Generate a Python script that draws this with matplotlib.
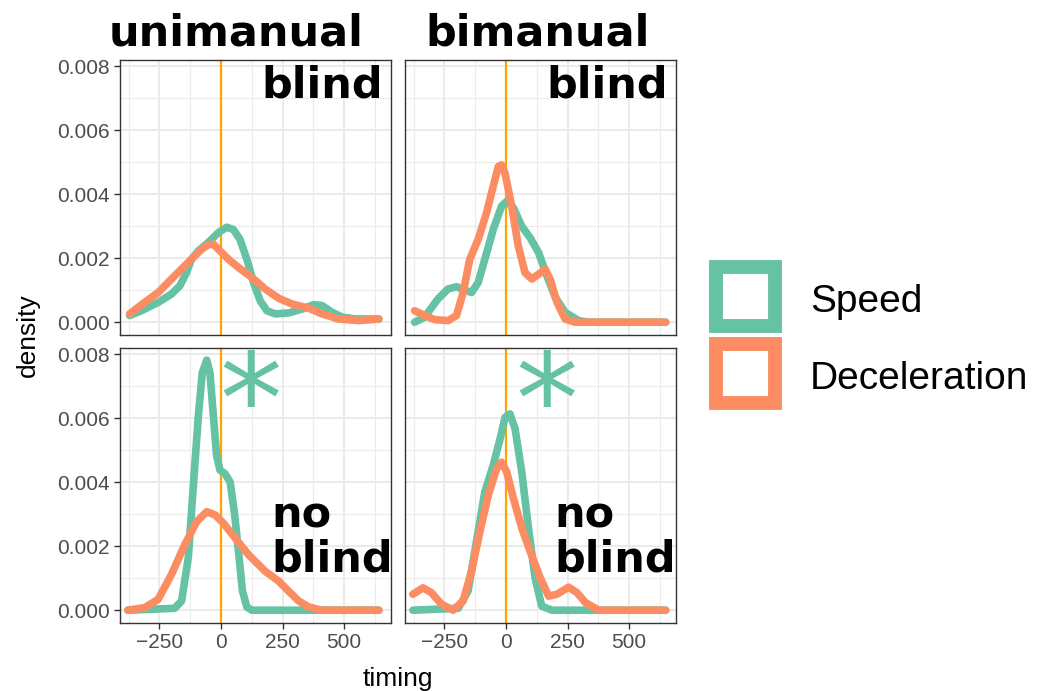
import matplotlib
matplotlib.use("Agg")
import matplotlib.pyplot as plt
from matplotlib.patches import Rectangle

# colours (Set2)
SPEED_COL = "#66C2A5"
DECEL_COL = "#FC8D62"
VLINE_COL = "#FFA500"

# ---- data (timing, density) ----
# unimanual / blind
uni_blind_speed_x = [-371, -323, -255, -201, -167, -140, -120, -92, -52, -11, 23, 50, 77, 105, 132, 159,
                     186, 220, 274, 329, 376, 410, 451, 492, 546, 641]
uni_blind_speed_y = [0.00021, 0.00036, 0.00062, 0.00088, 0.00114, 0.00155, 0.00197, 0.00223, 0.00249,
                     0.0028, 0.00297, 0.0029, 0.00259, 0.00197, 0.00124, 0.00067, 0.00036, 0.00026,
                     0.00029, 0.00041, 0.00055, 0.00052, 0.00031, 0.00016, 0.0001, 0.0001]
uni_blind_decel_x = [-371, -310, -255, -188, -120, -79, -52, -31, -4, 30, 71, 125, 179, 234, 288, 356,
                     410, 478, 560, 641]
uni_blind_decel_y = [0.00026, 0.00062, 0.00093, 0.00145, 0.00197, 0.00228, 0.00242, 0.00244, 0.00223,
                     0.00197, 0.00171, 0.0014, 0.00104, 0.00075, 0.00057, 0.00044, 0.00026, 0.0001,
                     0.00005, 0.0001]

# bimanual / blind
bi_blind_speed_x = [-371, -330, -276, -235, -201, -167, -140, -113, -86, -52, -18, 3, 30, 64, 98, 132,
                    166, 200, 240, 295, 336, 648]
bi_blind_speed_y = [0.0, 0.00016, 0.00073, 0.00104, 0.00111, 0.001, 0.00093, 0.00124, 0.00197, 0.0029,
                    0.00363, 0.00378, 0.00358, 0.003, 0.00264, 0.00218, 0.00145, 0.00078, 0.00031,
                    0.00005, 0.0, 0.0]
bi_blind_decel_x = [-371, -330, -289, -235, -201, -174, -147, -113, -79, -52, -31, -18, -4, 23, 50, 77,
                    105, 132, 159, 179, 207, 240, 281, 648]
bi_blind_decel_y = [0.00036, 0.00021, 0.00008, 0.00005, 0.00021, 0.00093, 0.00197, 0.00259, 0.00342,
                    0.00425, 0.00487, 0.00492, 0.00466, 0.00363, 0.00238, 0.00155, 0.00135, 0.0015,
                    0.00166, 0.00135, 0.00062, 0.0001, 0.0, 0.0]

# unimanual / no blind
uni_noblind_speed_x = [-378, -188, -160, -133, -113, -92, -76, -58, -45, -31, -18, -4, 16, 37, 54, 71,
                       87, 105, 125, 641]
uni_noblind_speed_y = [0.0, 0.00006, 0.00029, 0.00163, 0.00381, 0.00608, 0.00743, 0.00782, 0.00743,
                       0.00608, 0.00484, 0.00438, 0.00427, 0.00401, 0.00308, 0.00184, 0.0006, 0.0001,
                       0.0, 0.0]
uni_noblind_decel_x = [-378, -310, -255, -201, -147, -99, -58, -24, 10, 57, 111, 179, 234, 274, 315, 356,
                       410, 641]
uni_noblind_decel_y = [0.0, 0.00008, 0.00034, 0.00112, 0.00205, 0.00277, 0.00308, 0.00298, 0.00272,
                       0.00226, 0.00174, 0.00122, 0.00091, 0.0006, 0.00029, 0.0001, 0.0, 0.0]

# bimanual / no blind
bi_noblind_speed_x = [-378, -194, -154, -120, -86, -52, -24, -4, 16, 37, 64, 91, 118, 145, 186, 648]
bi_noblind_speed_y = [0.0, 0.00006, 0.0006, 0.00215, 0.0037, 0.00453, 0.00536, 0.00603, 0.00614,
                      0.00567, 0.00432, 0.00257, 0.00101, 0.00013, 0.0, 0.0]
bi_noblind_decel_x = [-378, -337, -303, -262, -215, -174, -140, -106, -72, -38, -18, 3, 30, 64, 98, 139,
                      173, 207, 254, 288, 322, 376, 648]
bi_noblind_decel_y = [0.0005, 0.0007, 0.00055, 0.00019, 0.0, 0.00029, 0.00122, 0.00246, 0.0036, 0.00443,
                      0.00463, 0.00432, 0.0035, 0.00257, 0.00184, 0.00101, 0.00044, 0.0005, 0.00072,
                      0.00055, 0.00024, 0.0, 0.0]

col_titles = ["unimanual", "bimanual"]
legend_labels = ["Speed", "Deceleration"]
x_ticks = [-250, 0, 250, 500]
y_ticks = [0.000, 0.002, 0.004, 0.006, 0.008]

panels = [
    [(uni_blind_speed_x, uni_blind_speed_y, uni_blind_decel_x, uni_blind_decel_y),
     (bi_blind_speed_x, bi_blind_speed_y, bi_blind_decel_x, bi_blind_decel_y)],
    [(uni_noblind_speed_x, uni_noblind_speed_y, uni_noblind_decel_x, uni_noblind_decel_y),
     (bi_noblind_speed_x, bi_noblind_speed_y, bi_noblind_decel_x, bi_noblind_decel_y)],
]
asterisk_pos = [(120, 0.0063), (164, 0.0063)]

W, H = 1045, 691
fig = plt.figure(figsize=(W / 100, H / 100), dpi=100)
TICK_FONT = "Liberation Sans"
BOLD_FONT = "DejaVu Sans"

lefts = [120, 405]
tops = [60, 348]
pw, ph = 271, 275

for r in range(2):
    for c in range(2):
        ax = fig.add_axes([lefts[c] / W, 1 - (tops[r] + ph) / H, pw / W, ph / H])
        sx, sy, dx, dy = panels[r][c]
        ax.set_xlim(-410, 690)
        ax.set_ylim(-0.0004, 0.0082)
        ax.set_xticks(x_ticks)
        ax.set_yticks(y_ticks)
        ax.set_xticks([-375, -125, 125, 375, 625], minor=True)
        ax.set_yticks([0.001, 0.003, 0.005, 0.007], minor=True)
        ax.grid(which="major", color="#EBEBEB", lw=1.5)
        ax.grid(which="minor", color="#EBEBEB", lw=0.8)
        ax.set_axisbelow(True)
        for s in ax.spines.values():
            s.set_color("#333333")
            s.set_linewidth(1.0)
        ax.tick_params(which="minor", length=0)
        ax.tick_params(which="major", length=4, width=1.0, color="#333333",
                       labelsize=15, labelcolor="#4D4D4D")
        for lab in ax.get_xticklabels() + ax.get_yticklabels():
            lab.set_fontfamily(TICK_FONT)
        if c == 0:
            ax.set_yticklabels(["0.000", "0.002", "0.004", "0.006", "0.008"])
        else:
            ax.tick_params(axis="y", which="major", length=0, labelleft=False)
        if r == 0:
            ax.tick_params(axis="x", which="major", length=0, labelbottom=False)
        else:
            ax.set_xticklabels(["\u2212250", "0", "250", "500"])

        ax.axvline(0, color=VLINE_COL, lw=1.6, zorder=2)
        ax.plot(sx, sy, color=SPEED_COL, lw=5.5, solid_capstyle="round",
                solid_joinstyle="round", zorder=3)
        ax.plot(dx, dy, color=DECEL_COL, lw=5.5, solid_capstyle="round",
                solid_joinstyle="round", zorder=4)

        if r == 0:
            ax.text(0.97, 0.985, "blind", transform=ax.transAxes, ha="right", va="top",
                    fontsize=31, fontweight="bold", family=BOLD_FONT, zorder=5)
        else:
            ax.text(0.56 if c == 0 else 0.553, 0.189, "no\nblind", transform=ax.transAxes,
                    ha="left", va="baseline", fontsize=31, fontweight="bold",
                    family=BOLD_FONT, linespacing=1.05, zorder=5)
            axx, axy = asterisk_pos[c]
            ax.text(axx, axy, "*", ha="center", va="center", fontsize=90,
                    color=SPEED_COL, family=BOLD_FONT, zorder=5)

# column titles
fig.text(236 / W, 1 - 45 / H, col_titles[0], ha="center", va="baseline",
         fontsize=31, fontweight="bold", family=BOLD_FONT)
fig.text(538 / W, 1 - 45 / H, col_titles[1], ha="center", va="baseline",
         fontsize=31, fontweight="bold", family=BOLD_FONT)

# axis titles
fig.text(398 / W, 1 - 686 / H, "timing", ha="center", va="baseline",
         fontsize=19, family=TICK_FONT)
fig.text(28 / W, 1 - 335 / H, "density", ha="center", va="center", rotation=90,
         fontsize=19, family=TICK_FONT)

# legend
key_cols = [SPEED_COL, DECEL_COL]
key_tops = [260, 337]
for i in range(2):
    fig.patches.append(Rectangle(((709 + 7) / W, 1 - (key_tops[i] + 73 - 7) / H),
                                 59 / W, 59 / H, transform=fig.transFigure,
                                 facecolor="white", edgecolor=key_cols[i], lw=10))
    fig.text(810 / W, 1 - (key_tops[i] + 52) / H, legend_labels[i], ha="left",
             va="baseline", fontsize=28, family=TICK_FONT)

fig.savefig("out.png", dpi=100, facecolor="white")
